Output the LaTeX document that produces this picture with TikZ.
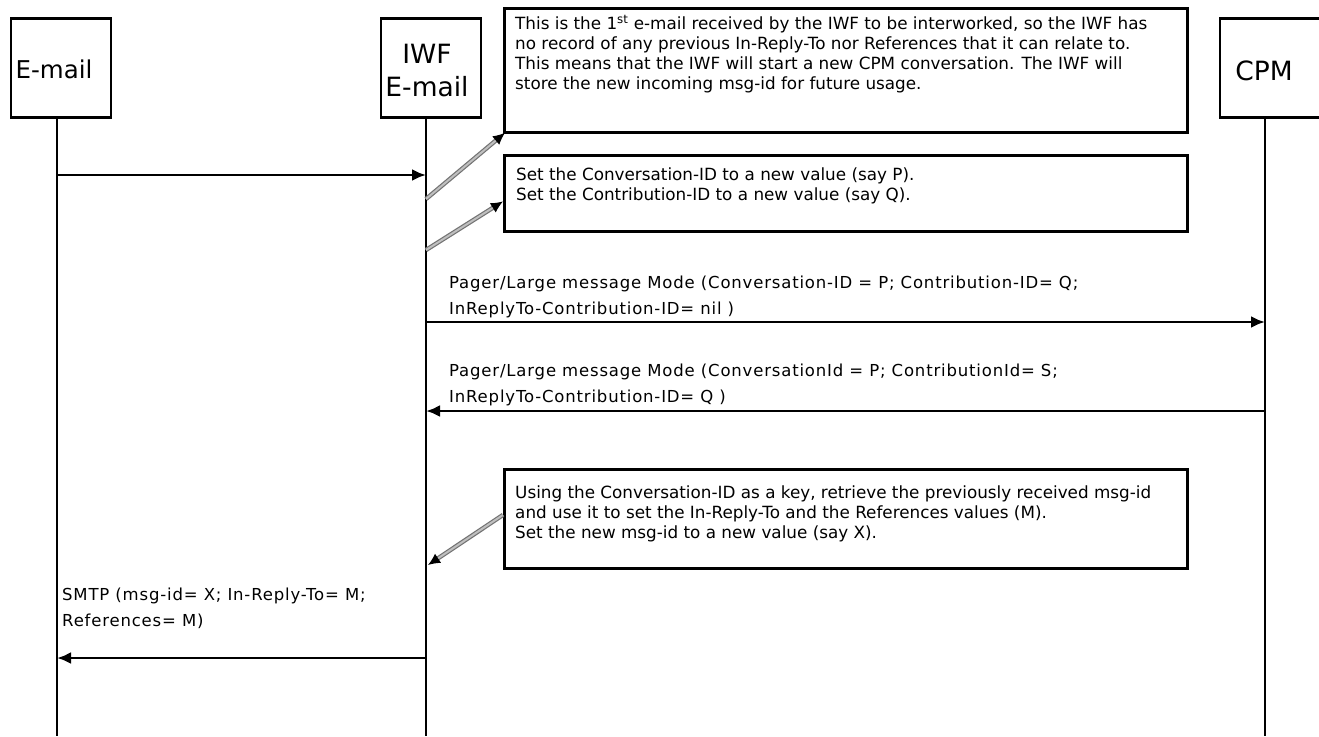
\documentclass[tikz,border=0pt]{standalone}
\usepackage{fontspec}
\setmainfont{DejaVu Sans}
\usetikzlibrary{arrows.meta}
\usetikzlibrary{positioning}

\tikzset{
  actor/.style={draw, line width=2.8pt, minimum width=100pt, minimum height=99pt, inner sep=0pt},
  actortext/.style={inner sep=0pt, align=center, font=\fontsize{26.5}{33}\selectfont},
  lifeline/.style={line width=2.8pt},
  msg/.style={line width=2.8pt, -{Latex[length=14pt,width=12pt]}},
  notebox/.style={draw, line width=2.8pt, minimum width=683pt, anchor=north west},
  notetext/.style={inner sep=0pt, anchor=north west, align=left, font=\fontsize{16.8}{20}\selectfont},
  msglabel/.style={inner sep=0pt, align=left, font=\fontsize{16.5}{26}\selectfont\addfontfeature{LetterSpace=5}},
  callout/.style={draw=black!55, line width=1.2pt, double=black!25, double distance=2pt, -{Latex[length=12pt,width=11pt,black]}},
}

\begin{document}
\begin{tikzpicture}[x=1pt,y=-1pt]
    \useasboundingbox (0,0) rectangle (1319,736);

    % participants
    \node[actor] (email) at (61,68) {};
    \node[actortext, font=\fontsize{24.5}{33}\selectfont] (emailt) at (54,69) {E-mail};
    \node[actor] (iwf) at (431,68) {};
    \node[actortext] (iwft) at (427,71) {IWF\\E-mail};
    \node[actor] (cpm) at (1270,68) {};
    \node[actortext] (cpmt) at (1264,71) {CPM};

    % lifelines
    \coordinate (etop) at (57,118);   \coordinate (ebot) at (57,736);
    \coordinate (itop) at (426,118);  \coordinate (ibot) at (426,736);
    \coordinate (ctop) at (1265,118); \coordinate (cbot) at (1265,736);
    \draw[lifeline] (etop) -- (ebot);
    \draw[lifeline] (itop) -- (ibot);
    \draw[lifeline] (ctop) -- (cbot);

    % notes
    \node[notebox, minimum height=124pt] (n1) at (503,7) {};
    \node[notetext] (n1t) at ([shift={(12pt,-8pt)}]n1.north west) {This is the 1\textsuperscript{st} e-mail received by the IWF to be interworked, so the IWF has\\no record of any previous In-Reply-To nor References that it can relate to.\\This means that the IWF will start a new CPM conversation. The IWF will\\store the new incoming msg-id for future usage.};

    \node[notebox, minimum height=76pt] (n2) at (503,154) {};
    \node[notetext] (n2t) at ([shift={(13pt,-14pt)}]n2.north west) {Set the Conversation-ID to a new value (say P).\\Set the Contribution-ID to a new value (say Q).};

    \node[notebox, minimum height=99pt] (n3) at (503,468) {};
    \node[notetext] (n3t) at ([shift={(12pt,-18pt)}]n3.north west) {Using the Conversation-ID as a key, retrieve the previously received msg-id\\and use it to set the In-Reply-To and the References values (M).\\Set the new msg-id to a new value (say X).};

    % callouts
    \coordinate (c1) at (426,199);
    \coordinate (c2) at (426,250);
    \coordinate (c3) at (428,565);
    \draw[callout] (c1) -- ([shift={(2pt,1pt)}]n1.south west);
    \draw[callout] (c2) -- ([yshift=-8pt]n2.west);
    \draw[callout] ([yshift=4pt]n3.west) -- (c3);

    % messages
    \coordinate (m1s) at (57,175);   \coordinate (m1e) at (426,175);
    \coordinate (m2s) at (426,322);  \coordinate (m2e) at (1265,322);
    \coordinate (m3s) at (1265,411); \coordinate (m3e) at (426,411);
    \coordinate (m4s) at (426,658);  \coordinate (m4e) at (57,658);

    \draw[msg] (m1s) -- (m1e);

    \draw[msg] (m2s) -- (m2e);
    \node[msglabel, above right=4pt and 23pt of m2s] (l2) {Pager/Large message Mode (Conversation-ID = P; Contribution-ID= Q;\\InReplyTo-Contribution-ID= nil )};

    \draw[msg] (m3s) -- (m3e);
    \node[msglabel, above right=5pt and 23pt of m3e] (l3) {Pager/Large message Mode (ConversationId = P; ContributionId= S;\\InReplyTo-Contribution-ID= Q )};

    \draw[msg] (m4s) -- (m4e);
    \node[msglabel, above right=29pt and 5pt of m4e] (l4) {SMTP (msg-id= X; In-Reply-To= M;\\References= M)};

\end{tikzpicture}
\end{document}
